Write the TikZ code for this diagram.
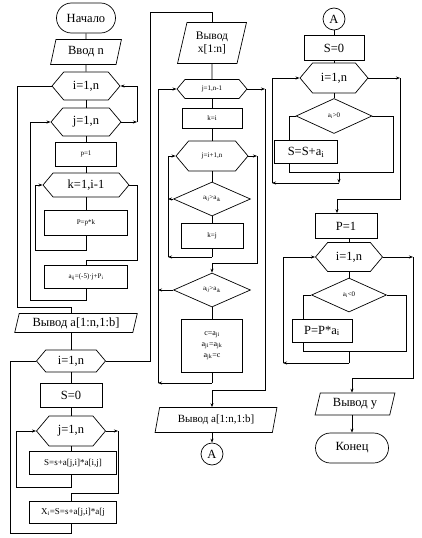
\documentclass[tikz,border=0pt]{standalone}
\usepackage{fontspec}
\setmainfont{Liberation Serif}
\usetikzlibrary{shapes.geometric,shapes.symbols,shapes.misc,arrows.meta,calc}
\begin{document}
\begin{tikzpicture}[x=1pt,y=-1pt, line width=0.7pt,
  >={Stealth[length=4pt,width=3pt]},
  box/.style={draw, rectangle, inner sep=1pt, align=center},
  hexa/.style={draw, signal, signal to=east and west, signal pointer angle=100, inner sep=1pt},
  para/.style={draw, trapezium, trapezium left angle=75, trapezium right angle=105, trapezium stretches=true, inner sep=1pt, align=center},
  term/.style={draw, rounded rectangle, inner sep=1pt},
  dia/.style={draw, diamond, inner sep=0pt},
  conn/.style={draw, circle, inner sep=0pt, minimum size=22pt},
  big/.style={font=\fontsize{12.5}{14}\selectfont},
  mid/.style={font=\fontsize{9}{10}\selectfont},
  small/.style={font=\fontsize{7}{8.5}\selectfont},
]
\fill[white] (0,0) rectangle (422,538);
\useasboundingbox (0,0) rectangle (422,538);

% ---------- column 1 (upper)
\node[term, big, minimum width=61pt, minimum height=30pt] (start) at (86,18) {Начало};
\node[para, big, minimum width=71pt, minimum height=25pt] (vvod) at (86,52) {Ввод n};
\node[hexa, big, minimum width=68pt, minimum height=28pt] (i1) at (86,86) {i=1,n};
\node[hexa, big, minimum width=70pt, minimum height=28pt] (j1) at (86,122) {j=1,n};
\node[box, small, minimum width=61pt, minimum height=24pt] (p1) at (86,154) {p=1};
\node[hexa, big, minimum width=86pt, minimum height=24pt] (k1) at (86,185) {k=1,i-1};
\node[box, small, minimum width=83pt, minimum height=25pt] (pk) at (86,223) {P=p*k};
\node[box, small, minimum width=83pt, minimum height=23pt] (ab) at (86,277) {a\textsubscript{ij}=(-5)·j+P\textsubscript{i}};
\node[para, big, minimum width=123pt, minimum height=19pt] (vyv1) at (76,323) {Вывод a[1:n,1:b]};

% ---------- column 1 (lower)
\node[hexa, big, minimum width=69pt, minimum height=22pt] (i2) at (71,361) {i=1,n};
\node[box, big, minimum width=62pt, minimum height=24pt] (s0) at (71,395) {S=0};
\node[hexa, big, minimum width=69pt, minimum height=30pt] (j2) at (71,431) {j=1,n};
\node[box, mid, minimum width=87pt, minimum height=23pt] (ss) at (73,463) {S=s+a[j,i]*a[i,j]};
\node[box, mid, minimum width=87pt, minimum height=22pt] (xx) at (73,512) {X\textsubscript{i}=S=s+a[j,i]*a[j};

% ---------- column 2
\node[para, font=\fontsize{11.5}{13}\selectfont, minimum width=69pt, minimum height=41pt] (vx) at (212,43) {Вывод\\x[1:n]};
\node[hexa, small, minimum width=70pt, minimum height=19pt] (j3) at (212,89) {j=1,n-1};
\node[box, small, minimum width=60pt, minimum height=20pt] (ki) at (212,118) {k=i};
\node[hexa, small, minimum width=72pt, minimum height=30pt] (j4) at (212,156) {j=i+1,n};
\node[dia, small, minimum width=77pt, minimum height=34pt] (d1) at (212,199) {a\textsubscript{ij}>a\textsubscript{ik}};
\node[box, small, minimum width=62pt, minimum height=25pt] (kj) at (212,236) {k=j};
\node[dia, small, minimum width=77pt, minimum height=34pt] (d2) at (212,290) {a\textsubscript{ij}>a\textsubscript{ik}};
\node[box, font=\fontsize{8}{11}\selectfont, minimum width=61pt, minimum height=53pt] (sw) at (212,346) {c=a\textsubscript{ji}\\a\textsubscript{ji}=a\textsubscript{jk}\\a\textsubscript{jk}=c};
\node[para, font=\fontsize{11}{13}\selectfont, minimum width=123pt, minimum height=25pt] (vyv2) at (216,420) {Вывод a[1:n,1:b]};
\node[conn, big] (A1) at (212,454) {A};

% ---------- column 3
\node[conn, big] (A2) at (334,19) {A};
\node[box, big, minimum width=60pt, minimum height=25pt] (s02) at (334,48) {S=0};
\node[hexa, big, minimum width=68pt, minimum height=30pt] (i3) at (334,78) {i=1,n};
\node[dia, small, minimum width=76pt, minimum height=35pt] (d3) at (334,116) {a\textsubscript{i}>0};
\node[box, big, minimum width=63pt, minimum height=23pt] (sa) at (306,152) {S=S+a\textsubscript{i}};
\node[box, big, minimum width=62pt, minimum height=25pt] (p12) at (346,226) {P=1};
\node[hexa, big, minimum width=67pt, minimum height=29pt] (i4) at (349,257) {i=1,n};
\node[dia, small, minimum width=75pt, minimum height=34pt] (d4) at (349,295) {a\textsubscript{i}<0};
\node[box, big, minimum width=60pt, minimum height=23pt] (pa) at (322,331) {P=P*a\textsubscript{i}};
\node[para, big, minimum width=80pt, minimum height=22pt] (vy) at (355,404) {Вывод y};
\node[term, big, minimum width=75pt, minimum height=30pt] (kon) at (352,448) {Конец};

% ---------- helper coordinates
\coordinate (c1a) at (137,122);
\coordinate (c1b) at (35,250);
\coordinate (c1c) at (137,260);
\coordinate (c1d) at (30,300);
\coordinate (c1e) at (17,307);
\coordinate (c1f) at (71,307);
\coordinate (c1g) at (16,487);
\coordinate (c1h) at (118,431);
\coordinate (c1i) at (71,493);
\coordinate (c1j) at (10,533);
\coordinate (c1k) at (150,12);
\coordinate (c2a) at (168,257);
\coordinate (c2b) at (168,199);
\coordinate (c2c) at (257,156);
\coordinate (c2d) at (212,263);
\coordinate (c2e) at (158,290);
\coordinate (c2f) at (158,383);
\coordinate (c2g) at (265,89);
\coordinate (c2h) at (212,390);
\coordinate (c3a) at (289,172);
\coordinate (c3b) at (393,172);
\coordinate (c3c) at (339,183);
\coordinate (c3d) at (272,183);
\coordinate (c3e) at (400,78);
\coordinate (c3f) at (337,199);
\coordinate (c3g) at (303,351);
\coordinate (c3h) at (406,351);
\coordinate (c3i) at (349,363);
\coordinate (c3j) at (283,363);
\coordinate (c3k) at (413,257);
\coordinate (c3l) at (352,378);

% ---------- connectors column 1
\draw (start.south) -- (vvod.north);
\draw (vvod.south) -- (i1.north);
\draw (i1.south) -- (j1.north);
\draw (j1.south) -- (p1.north);
\draw (p1.south) -- (k1.north);
\draw (k1.south) -- (pk.north);
\draw (pk.south) -- (pk.south |- c1b) -- (c1b);
\draw[->] (c1b) |- (k1.west);
\draw (k1.east) -| (c1c) -- (c1c -| ab.north) -- (ab.north);
\draw (ab.south) -- (ab.south |- c1d) -- (c1d);
\draw[->] (c1d) |- (j1.west);
\draw[->] (j1.east) -- (c1a);
\draw[->] (c1a) |- (i1.east);
\draw (i1.west) -| (c1e) -- (c1f) -- (c1f |- vyv1.north);
\draw (i2.north |- vyv1.south) -- (i2.north);
\draw (i2.south) -- (s0.north);
\draw (s0.south) -- (j2.north);
\draw (j2.south) -- (j2.south |- ss.north);
\draw (j2.south |- ss.south) -- (j2.south |- c1g) -- (c1g);
\draw[->] (c1g) |- (j2.west);
\draw[->] (j2.east) -- (c1h);
\draw (c1h) |- (c1i) -- (c1i |- xx.north);
\draw (c1i |- xx.south) -- (c1i |- c1j) -- (c1j) |- (i2.west);
\draw (i2.east) -| (c1k) -| (vx.north);

% ---------- connectors column 2
\draw (vx.south) -- (j3.north);
\draw (j3.south) -- (ki.north);
\draw (ki.south) -- (j4.north);
\draw (j4.south) -- (d1.north);
\draw (d1.south) -- (kj.north);
\draw (kj.south) -- (kj.south |- c2a);
\draw[->] (kj.south |- c2a) -- (c2a);
\draw[->] (c2a) |- (j4.west);
\draw[->] (d1.west) -- (c2b);
\draw[->] (j4.east) -- (c2c);
\draw (c2c) |- (c2d);
\draw[->] (c2d) -- (d2.north);
\draw[->] (d2.west) -- (c2e);
\draw (d2.south) -- (sw.north);
\draw (sw.south) -- (sw.south |- c2f);
\draw[->] (sw.south |- c2f) -- (c2f);
\draw[->] (c2f) |- (j3.west);
\draw[->] (j3.east) -- (c2g);
\draw (c2g) |- (c2h);
\draw[->] (c2h) -- (c2h |- vyv2.north);
\draw[->] (c2h |- vyv2.south) -- (A1.north);

% ---------- connectors column 3
\draw (A2.south) -- (s02.north);
\draw (s02.south) -- (i3.north);
\draw (i3.south) -- (d3.north);
\draw (d3.west) -| (sa.north -| c3a);
\draw (sa.south -| c3a) -- (c3a) -- (c3b) |- (d3.east);
\draw[->] (c3c |- c3a) -- (c3c);
\draw[->] (c3c) -- (c3d);
\draw[->] (c3d) |- (i3.west);
\draw[->] (i3.east) -- (c3e);
\draw (c3e) |- (c3f);
\draw[->] (c3f) -- (c3f |- p12.north);
\draw (p12.south -| i4.north) -- (i4.north);
\draw (i4.south) -- (d4.north);
\draw (d4.west) -| (pa.north -| c3g);
\draw (pa.south -| c3g) -- (c3g) -- (c3h) |- (d4.east);
\draw (c3i |- c3g) -- (c3i);
\draw[->] (c3i) -- (c3j);
\draw[->] (c3j) |- (i4.west);
\draw[->] (i4.east) -- (c3k);
\draw (c3k) |- (c3l);
\draw[->] (c3l) -- (c3l |- vy.north);
\draw[->] (c3l |- vy.south) -- (kon.north);
\end{tikzpicture}
\end{document}
